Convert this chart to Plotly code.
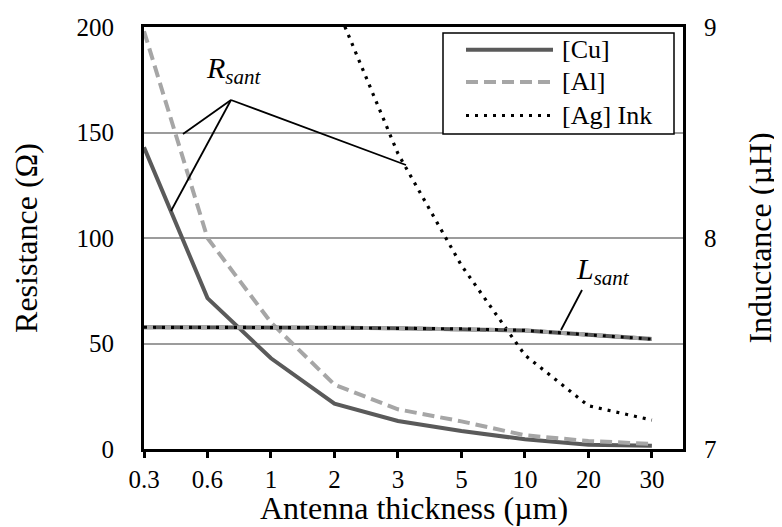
import plotly.graph_objects as go

# ---- data ----
thickness = ["0.3", "0.6", "1", "2", "3", "5", "10", "20", "30"]
res_cu = [143, 71.5, 43, 21.5, 13.3, 8.5, 4.6, 2.0, 1.5]
res_al = [198, 100, 60, 30.5, 18.8, 13.1, 6.5, 3.8, 2.4]
res_ag = [None, None, None, 212, 140, 87, 44.5, 20.5, 13.7]
ind_cu = [7.577, 7.577, 7.576, 7.575, 7.572, 7.569, 7.562, 7.542, 7.521]
ind_al = [7.577, 7.577, 7.576, 7.575, 7.572, 7.569, 7.562, 7.542, 7.521]
ind_ag = [7.577, 7.577, 7.576, 7.575, 7.572, 7.569, 7.562, 7.542, 7.521]
names = ["[Cu]", "[Al]", "[Ag] Ink"]
x_title = "Antenna thickness (µm)"

FONT = "Liberation Serif"
C_CU, C_AL, C_AG = "#5a5a5a", "#a6a6a6", "#000000"
styles = [dict(color=C_CU, width=4, dash="solid"),
          dict(color=C_AL, width=4, dash="12px,6px"),
          dict(color=C_AG, width=3.2, dash="3px,6px")]

# plot-area geometry (pixels) used only for placing decorations
L, R, T, B = 136, 675, 19, 441
W, H = 782, 527
def px(x):
    return (x - L) / (R - L)
def py(y):
    return (B - y) / (B - T)

fig = go.Figure()
for vals, nm, st in zip([res_cu, res_al, res_ag], names, styles):
    fig.add_trace(go.Scatter(x=thickness, y=vals, mode="lines", name=nm,
                             line=st, showlegend=False, yaxis="y"))
for vals, nm, st in zip([ind_cu, ind_al, ind_ag], names, styles):
    fig.add_trace(go.Scatter(x=thickness, y=vals, mode="lines", name=nm + " L",
                             line=st, showlegend=False, yaxis="y2"))

shapes = []
annotations = []
# R_sant callout
apex = (223, 92)
for end in [(175, 126), (163, 203), (398, 157)]:
    shapes.append(dict(type="line", xref="paper", yref="paper",
                       x0=px(apex[0]), y0=py(apex[1]), x1=px(end[0]), y1=py(end[1]),
                       line=dict(color="black", width=1.8)))
annotations.append(dict(xref="paper", yref="paper", x=px(226), y=py(62),
                        text="<i>R<sub>sant</sub></i>", showarrow=False,
                        xanchor="center", yanchor="middle",
                        font=dict(family=FONT, size=30, color="black")))
# L_sant callout
shapes.append(dict(type="line", xref="paper", yref="paper",
                   x0=px(574), y0=py(282), x1=px(553), y1=py(322),
                   line=dict(color="black", width=1.8)))
annotations.append(dict(xref="paper", yref="paper", x=px(595), y=py(263),
                        text="<i>L<sub>sant</sub></i>", showarrow=False,
                        xanchor="center", yanchor="middle",
                        font=dict(family=FONT, size=30, color="black")))

# x-axis title
annotations.append(dict(xref="paper", yref="paper", x=0.5, y=py(500),
                        text=x_title, showarrow=False,
                        xanchor="center", yanchor="middle",
                        font=dict(family=FONT, size=32, color="black")))

# legend box
shapes.append(dict(type="rect", xref="paper", yref="paper",
                   x0=px(435), x1=px(666), y0=py(126), y1=py(25),
                   line=dict(color="black", width=1.5), fillcolor="white", layer="above"))
for i, (nm, st) in enumerate(zip(names, styles)):
    yy = [41.7, 74, 107.5][i]
    shapes.append(dict(type="line", xref="paper", yref="paper",
                       x0=px(458), x1=px(545), y0=py(yy), y1=py(yy),
                       line=dict(color=st["color"], width=st["width"], dash=st["dash"]),
                       layer="above"))
    annotations.append(dict(xref="paper", yref="paper", x=px(552), y=py(yy),
                            text=nm, showarrow=False, xanchor="left", yanchor="middle",
                            font=dict(family=FONT, size=26, color="black")))

fig.update_layout(
    width=W, height=H,
    margin=dict(l=L, r=W - R, t=T, b=H - B, autoexpand=False),
    paper_bgcolor="white", plot_bgcolor="white",
    font=dict(family=FONT, color="black", size=25),
    shapes=shapes, annotations=annotations,
    xaxis=dict(type="category", categoryorder="array", categoryarray=thickness,
               range=[0, 8.49], showgrid=False, zeroline=False,
               showline=True, linecolor="black", linewidth=3, mirror=True,
               ticks="outside", ticklen=6, tickwidth=2.5, tickcolor="black",
               tickfont=dict(family=FONT, size=25, color="black")),
    yaxis=dict(range=[0, 200], tickvals=[0, 50, 100, 150, 200],
               showgrid=True, gridcolor="#9c9c9c", gridwidth=2, zeroline=False,
               showline=True, linecolor="black", linewidth=3, mirror=True,
               ticks="", ticklabelstandoff=22,
               tickfont=dict(family=FONT, size=25, color="black"),
               title=dict(text="Resistance (Ω)",
                          font=dict(family=FONT, size=32, color="black"),
                          standoff=32)),
    yaxis2=dict(range=[7, 9], tickvals=[7, 8, 9], overlaying="y", side="right",
                showgrid=False, zeroline=False, showline=False,
                ticks="", ticklabelstandoff=20,
                tickfont=dict(family=FONT, size=25, color="black"),
                title=dict(text="Inductance (µH)",
                           font=dict(family=FONT, size=32, color="black"),
                           standoff=33)),
)

fig.write_html("out.html")
